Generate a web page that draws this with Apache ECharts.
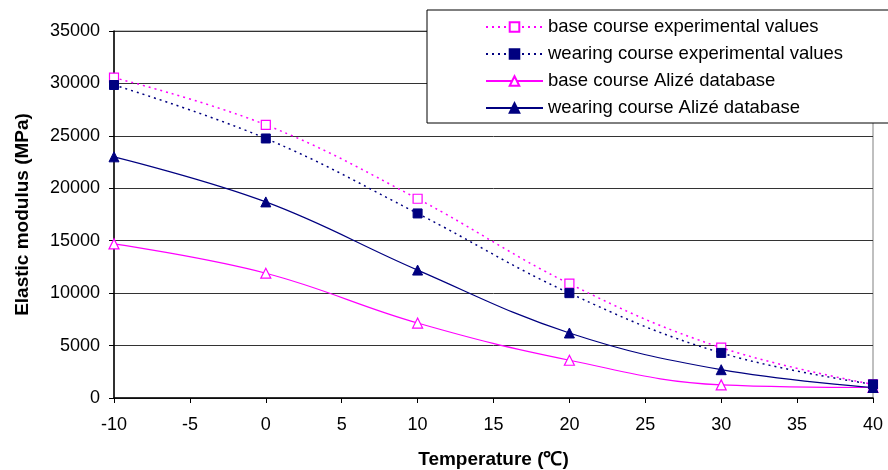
<!DOCTYPE html>
<html>
<head>
<meta charset="utf-8">
<script src="https://cdn.jsdelivr.net/npm/echarts@6/dist/echarts.min.js"></script>
<style>
  html, body { margin: 0; padding: 0; background: #fff; }
  #chart { width: 888px; height: 470px; }
</style>
</head>
<body>
<div id="chart"></div>
<script>
const temperatures = [-10, 0, 10, 20, 30, 40];
const baseExperimental = [30550, 26050, 19000, 10900, 4800, 1300];
const wearingExperimental = [29850, 24750, 17600, 10000, 4300, 1300];
const baseAlize = [14700, 11900, 7150, 3600, 1250, 1000];
const wearingAlize = [23000, 18700, 12200, 6200, 2700, 1000];

const PINK = '#ff00ff';
const NAVY = '#000080';
const FONT = 'Liberation Sans, Arial, sans-serif';

const pairs = (ys) => temperatures.map((t, i) => [t, ys[i]]);

const chart = echarts.init(document.getElementById('chart'));

const option = {
  backgroundColor: '#fff',
  animation: false,
  grid: {
    left: 114, right: 15, top: 31, bottom: 72,
    outerBoundsMode: 'none',
    show: true, borderColor: '#808080', borderWidth: 1
  },
  legend: {
    orient: 'vertical',
    left: 427,
    top: 10,
    padding: [7, 80, 5, 58],
    itemWidth: 57,
    itemHeight: 12,
    itemGap: 7,
    backgroundColor: '#fff',
    borderColor: '#000',
    borderWidth: 1,
    borderRadius: 0,
    textStyle: { fontFamily: FONT, fontSize: 18.5, lineHeight: 20, color: '#000' },
    data: [
      'base course experimental values',
      'wearing course experimental values',
      'base course Alizé database',
      'wearing course Alizé database'
    ]
  },
  xAxis: {
    type: 'value',
    min: -10,
    max: 40,
    interval: 5,
    name: 'Temperature (℃)',
    nameLocation: 'middle',
    nameGap: 52,
    nameTextStyle: { fontFamily: FONT, fontSize: 19, fontWeight: 'bold', color: '#000' },
    axisLine: { onZero: false, lineStyle: { color: '#000', width: 1.5 } },
    axisTick: { show: true, inside: false, length: 5, lineStyle: { color: '#000' } },
    axisLabel: { fontFamily: FONT, fontSize: 18, color: '#000', margin: 18 },
    splitLine: { show: false }
  },
  yAxis: {
    type: 'value',
    min: 0,
    max: 35000,
    interval: 5000,
    name: 'Elastic modulus (MPa)',
    nameLocation: 'middle',
    nameGap: 82,
    nameTextStyle: { fontFamily: FONT, fontSize: 19, fontWeight: 'bold', color: '#000' },
    axisLine: { show: true, onZero: false, lineStyle: { color: '#000', width: 1.5 } },
    axisTick: { show: true, inside: false, length: 5, lineStyle: { color: '#000' } },
    axisLabel: { fontFamily: FONT, fontSize: 18, color: '#000', margin: 14, formatter: (v) => String(v) },
    splitLine: { show: true, lineStyle: { color: '#333', width: 1 } }
  },
  series: [
    {
      name: 'base course experimental values',
      type: 'line',
      smooth: 0.4,
      data: pairs(baseExperimental),
      symbol: 'rect',
      symbolSize: 9,
      lineStyle: { color: PINK, width: 1.5, type: [2, 4] },
      itemStyle: { color: '#fff', borderColor: PINK, borderWidth: 1.2 },
      z: 3
    },
    {
      name: 'wearing course experimental values',
      type: 'line',
      smooth: 0.4,
      data: pairs(wearingExperimental),
      symbol: 'rect',
      symbolSize: 9,
      lineStyle: { color: NAVY, width: 1.5, type: [2, 4] },
      itemStyle: { color: NAVY, borderColor: NAVY, borderWidth: 1 },
      z: 4
    },
    {
      name: 'base course Alizé database',
      type: 'line',
      smooth: 0.4,
      data: pairs(baseAlize),
      symbol: 'triangle',
      symbolSize: 10,
      lineStyle: { color: PINK, width: 1.2 },
      itemStyle: { color: '#fff', borderColor: PINK, borderWidth: 1.2 },
      z: 3
    },
    {
      name: 'wearing course Alizé database',
      type: 'line',
      smooth: 0.4,
      data: pairs(wearingAlize),
      symbol: 'triangle',
      symbolSize: 10,
      lineStyle: { color: NAVY, width: 1.2 },
      itemStyle: { color: NAVY, borderColor: NAVY, borderWidth: 1 },
      z: 4
    }
  ]
};

chart.setOption(option);
</script>
</body>
</html>
